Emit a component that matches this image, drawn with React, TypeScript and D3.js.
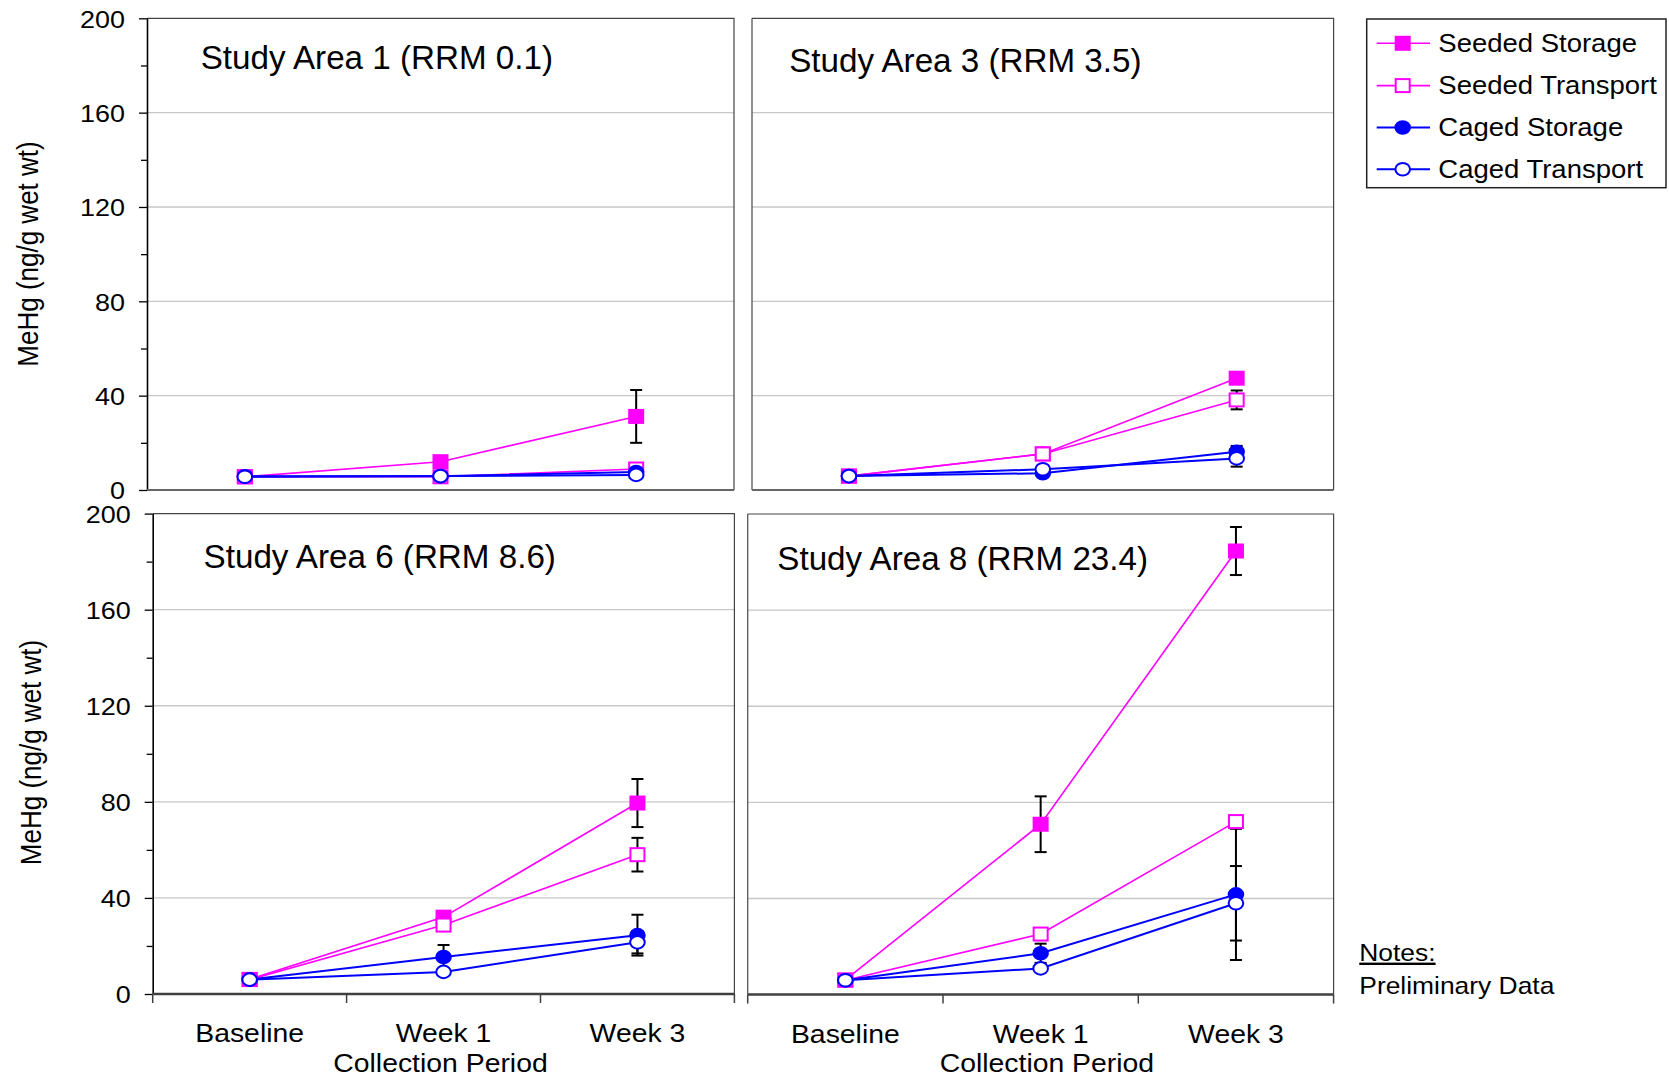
import React, { useEffect, useRef } from "react"
import * as d3 from "d3"

// categories and tick values
const categories = ["Baseline", "Week 1", "Week 3"]
const seriesNames = ["Seeded Storage", "Seeded Transport", "Caged Storage", "Caged Transport"]
const yTicks = [0, 40, 80, 120, 160, 200]
const yMinorTicks = [20, 60, 100, 140, 180]
const gridTicks = [40, 80, 120, 160]
const panelTitles = ["Study Area 1 (RRM 0.1)", "Study Area 3 (RRM 3.5)", "Study Area 6 (RRM 8.6)", "Study Area 8 (RRM 23.4)"]
const yTitle = "MeHg (ng/g wet wt)"
const xTitle = "Collection Period"

// MeHg means, one row per series (SS, ST, CS, CT)
const area1Values = [[5.6, 12, 31.2], [5.6, 5.6, 8.9], [5.8, 5.8, 7.6], [5.6, 5.9, 6.4]]
const area1Errors = [[0, 0, 11.2], [0, 0, 0], [0, 0, 0], [0, 0, 0]]
const area3Values = [[5.9, 15.3, 47.4], [5.9, 15.3, 38.2], [5.9, 7.1, 16.2], [5.9, 8.8, 13.4]]
const area3Errors = [[0, 0, 2], [0, 0, 4], [0, 0, 2.5], [0, 0, 3.5]]
const area6Values = [[6.1, 32, 79.5], [6, 28.7, 58], [6, 15.4, 24.5], [6, 9.2, 21.5]]
const area6Errors = [[0, 0, 10], [0, 0, 7], [0, 5, 8.5], [0, 0, 4.6]]
const area8Values = [[6.1, 70.9, 184.6], [6, 25.2, 72], [6, 17.2, 41.7], [6, 10.9, 38]]
const area8Errors = [[0, 11.6, 10], [0, 0, 0], [0, 4, 27.3], [0, 0, 15.5]]

const FONT = "'Liberation Sans', Arial, sans-serif"
const SX = 1.1 // the source is stretched sideways a bit

const seriesStyle = [
    { color: "#ff00ff", shape: "square", filled: true, width: 1.6 },
    { color: "#ff00ff", shape: "square", filled: false, width: 1.6 },
    { color: "#0000ff", shape: "circle", filled: true, width: 2 },
    { color: "#0000ff", shape: "circle", filled: false, width: 2 },
]

const panels = [
    { x0: 147, x1: 734, y0: 18.3, y1: 490, tx: 200.7, ty: 69.3, yAxis: true, xAxis: false, values: area1Values, errors: area1Errors },
    { x0: 752, x1: 1333.6, y0: 18.3, y1: 490, tx: 789.2, ty: 71.7, yAxis: false, xAxis: false, values: area3Values, errors: area3Errors },
    { x0: 152.7, x1: 734.4, y0: 513.6, y1: 994, tx: 203.6, ty: 568.2, yAxis: true, xAxis: true, xtx: 440.5, values: area6Values, errors: area6Errors },
    { x0: 747.7, x1: 1333.6, y0: 514, y1: 994.6, tx: 777.3, ty: 570, yAxis: false, xAxis: true, xtx: 1046.9, values: area8Values, errors: area8Errors },
]

function marker(g: any, style: any, cx: number, cy: number) {
    const fill = style.filled ? style.color : "#fff"
    if (style.shape === "square") {
        g.append("rect")
            .attr("x", cx - 7).attr("y", cy - 6.5)
            .attr("width", 14).attr("height", 13)
            .attr("fill", fill).attr("stroke", style.color).attr("stroke-width", 2)
    } else {
        g.append("ellipse")
            .attr("cx", cx).attr("cy", cy)
            .attr("rx", 7.3).attr("ry", 6.3)
            .attr("fill", fill).attr("stroke", style.color).attr("stroke-width", 2)
    }
}

function stretchedText(g: any, x: number, y: number, txt: string, size: number, anchor = "start") {
    return g.append("g")
        .attr("transform", `translate(${x},${y}) scale(${SX},1)`)
        .append("text")
        .attr("text-anchor", anchor)
        .attr("font-family", FONT)
        .attr("font-size", size)
        .attr("fill", "#000")
        .text(txt)
}

function drawPanel(svg: any, p: any, idx: number) {
    const x = d3.scaleBand().domain(categories).range([p.x0, p.x1])
    const y = d3.scaleLinear().domain([0, 200]).range([p.y1, p.y0])
    const cx = (c: string) => (x(c) as number) + x.bandwidth() / 2
    const g = svg.append("g")

    // grid
    g.append("g")
        .selectAll("line")
        .data(gridTicks)
        .join("line")
        .attr("x1", p.x0).attr("x2", p.x1)
        .attr("y1", (d: number) => y(d)).attr("y2", (d: number) => y(d))
        .attr("stroke", "#c8c8c8").attr("stroke-width", 1.3)

    // top + right border
    g.append("path")
        .attr("d", `M${p.x0},${p.y0}H${p.x1}V${p.y1}`)
        .attr("fill", "none").attr("stroke", "#444").attr("stroke-width", 1.2)

    if (p.yAxis) {
        const ax = g.append("g")
            .attr("transform", `translate(${p.x0},0)`)
            .call(d3.axisLeft(y).tickValues(yTicks).tickSize(8).tickSizeOuter(0).tickPadding(14))
        ax.select(".domain").attr("stroke", "#000").attr("stroke-width", 1.6)
        ax.selectAll(".tick line").attr("stroke", "#000").attr("stroke-width", 1.3)
        ax.selectAll(".tick text")
            .attr("font-size", 24.5).attr("font-family", FONT).attr("fill", "#000")
            .attr("x", -22 / SX).attr("dy", "0.36em")
            .attr("transform", `scale(${SX},1)`)
        const minor = g.append("g")
            .attr("transform", `translate(${p.x0},0)`)
            .call(d3.axisLeft(y).tickValues(yMinorTicks).tickSize(6).tickSizeOuter(0).tickFormat(() => ""))
        minor.select(".domain").remove()
        minor.selectAll(".tick line").attr("stroke", "#000").attr("stroke-width", 1.3)
    } else {
        g.append("line")
            .attr("x1", p.x0).attr("x2", p.x0).attr("y1", p.y0).attr("y2", p.y1)
            .attr("stroke", "#555").attr("stroke-width", 1.3)
    }

    // bottom line
    g.append("line")
        .attr("x1", p.x0).attr("x2", p.x1).attr("y1", p.y1).attr("y2", p.y1)
        .attr("stroke", p.xAxis ? "#404040" : "#666").attr("stroke-width", p.xAxis ? 2.5 : 1.8)

    if (p.xAxis) {
        const bounds = [p.x0].concat(categories.map((c) => (x(c) as number) + x.bandwidth()))
        g.append("g")
            .selectAll("line")
            .data(bounds)
            .join("line")
            .attr("x1", (d: number) => d).attr("x2", (d: number) => d)
            .attr("y1", p.y1).attr("y2", p.y1 + 9)
            .attr("stroke", "#404040").attr("stroke-width", 1.5)
        const xa = g.append("g")
            .attr("transform", `translate(0,${p.y1})`)
            .call(d3.axisBottom(x).tickSize(0).tickPadding(30))
        xa.select(".domain").remove()
        xa.selectAll(".tick text")
            .attr("font-size", 25.8).attr("font-family", FONT).attr("fill", "#000")
            .attr("transform", `scale(${SX},1)`)
        stretchedText(g, p.xtx, 1072, xTitle, 25.8, "middle")
    }

    // title
    g.append("text")
        .attr("x", p.tx).attr("y", p.ty)
        .attr("font-family", FONT).attr("font-size", 33.2)
        .attr("fill", "#000")
        .text(panelTitles[idx])

    // series lines
    const line = d3.line<number>()
        .x((d, i) => cx(categories[i]))
        .y((d) => y(d))
    p.values.forEach((vals: number[], s: number) => {
        g.append("path")
            .attr("d", line(vals))
            .attr("fill", "none")
            .attr("stroke", seriesStyle[s].color)
            .attr("stroke-width", seriesStyle[s].width)
    })

    // error bars
    p.values.forEach((vals: number[], s: number) => {
        vals.forEach((v, i) => {
            const e = p.errors[s][i]
            if (!e) return
            const xx = cx(categories[i])
            const eg = g.append("g").attr("stroke", "#000").attr("stroke-width", 2)
            eg.append("line").attr("x1", xx).attr("x2", xx).attr("y1", y(v + e)).attr("y2", y(v - e))
            eg.append("line").attr("x1", xx - 6).attr("x2", xx + 6).attr("y1", y(v + e)).attr("y2", y(v + e))
            eg.append("line").attr("x1", xx - 6).attr("x2", xx + 6).attr("y1", y(v - e)).attr("y2", y(v - e))
        })
    })

    // markers
    p.values.forEach((vals: number[], s: number) => {
        vals.forEach((v, i) => marker(g, seriesStyle[s], cx(categories[i]), y(v)))
    })
}

function drawLegend(svg: any) {
    const lg = svg.append("g")
    lg.append("rect")
        .attr("x", 1366.7).attr("y", 19)
        .attr("width", 299.3).attr("height", 168.7)
        .attr("fill", "#fff").attr("stroke", "#222").attr("stroke-width", 1.5)
    const rows = [43.3, 85.6, 127.5, 169.3]
    seriesNames.forEach((name, i) => {
        const st = seriesStyle[i]
        lg.append("line")
            .attr("x1", 1376.7).attr("x2", 1430)
            .attr("y1", rows[i]).attr("y2", rows[i])
            .attr("stroke", st.color).attr("stroke-width", st.width)
        marker(lg, st, 1402.7, rows[i])
        stretchedText(lg, 1438.3, rows[i] + 8.8, name, 25)
    })
}

export default function App() {
    const ref = useRef<SVGSVGElement>(null)

    useEffect(() => {
        const svg = d3.select(ref.current)
        svg.selectAll("*").remove()
        svg.append("rect").attr("width", 1669).attr("height", 1078).attr("fill", "#fff")

        panels.forEach((p, i) => drawPanel(svg, p, i))

        // y titles
        ;[[28, 254], [30.5, 752.5]].forEach(([tx, ty]) => {
            svg.append("g")
                .attr("transform", `translate(${tx},${ty}) scale(${SX},1) rotate(-90)`)
                .append("text")
                .attr("text-anchor", "middle").attr("dy", "0.35em")
                .attr("font-family", FONT).attr("font-size", 26)
                .attr("fill", "#000")
                .text(yTitle)
        })

        drawLegend(svg)

        stretchedText(svg, 1359.3, 960.7, "Notes:", 24).attr("text-decoration", "underline")
        stretchedText(svg, 1359.3, 994, "Preliminary Data", 24)
    }, [])

    return (
        <svg
            ref={ref}
            width={1669}
            height={1078}
            style={{ position: "absolute", left: 0, top: 0, display: "block" }}
        />
    )
}
